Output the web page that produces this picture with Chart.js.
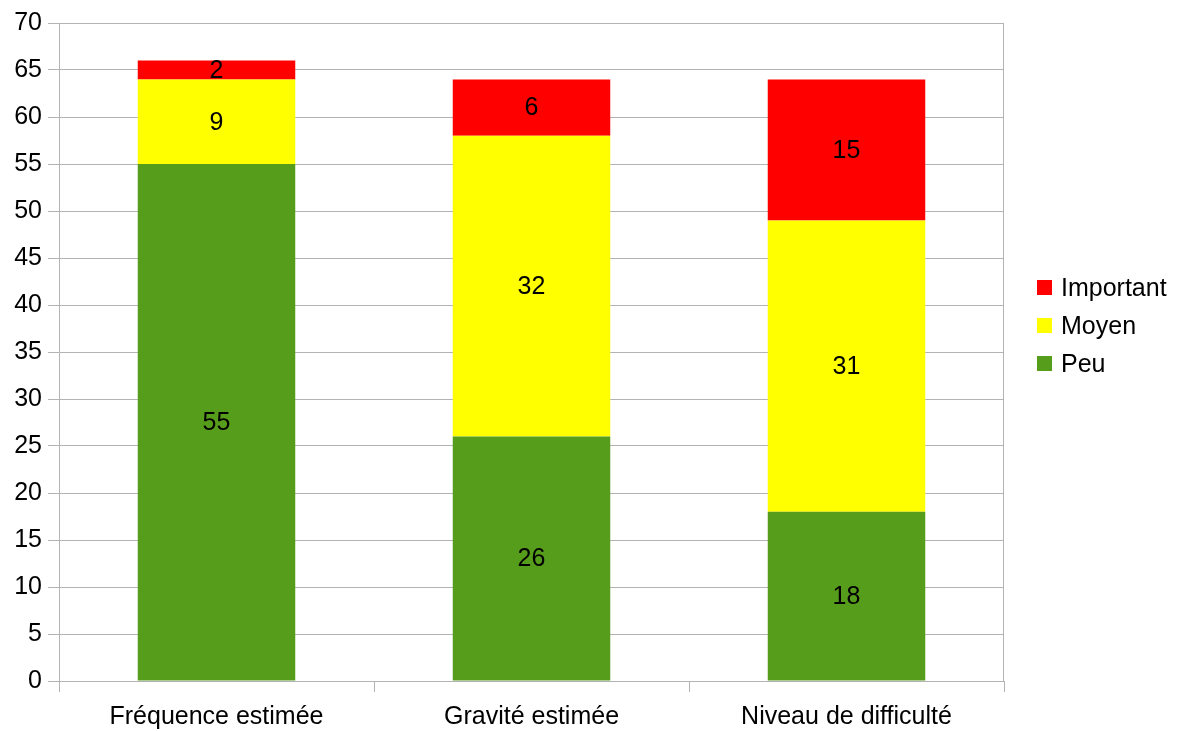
<!DOCTYPE html>
<html>
<head>
<meta charset="utf-8">
<script src="https://cdn.jsdelivr.net/npm/chart.js@4/dist/chart.umd.min.js"></script>
<style>
  html, body { margin: 0; padding: 0; background: #fff; }
  #wrap { width: 1180px; height: 731px; position: relative; }
</style>
</head>
<body>
<div id="wrap"><canvas id="chart"></canvas></div>
<script>
// categories and series
const categories = ['Fréquence estimée', 'Gravité estimée', 'Niveau de difficulté'];
const peu = [55, 26, 18];
const moyen = [9, 32, 31];
const important = [2, 6, 15];
const seriesNames = ['Peu', 'Moyen', 'Important'];
const seriesColors = ['#579d1c', '#ffff00', '#ff0000'];

const FONT = '"Liberation Sans", Arial, sans-serif';
const GRID = '#b3b3b3';

// value labels in the middle of each segment
const valueLabels = {
  id: 'valueLabels',
  afterDatasetsDraw(chart) {
    const ctx = chart.ctx;
    ctx.save();
    ctx.font = '25px ' + FONT;
    ctx.fillStyle = '#000';
    ctx.textAlign = 'center';
    ctx.textBaseline = 'middle';
    chart.data.datasets.forEach((ds, i) => {
      chart.getDatasetMeta(i).data.forEach((bar, j) => {
        const p = bar.getCenterPoint();
        ctx.fillText(ds.data[j], p.x, p.y + 1);
      });
    });
    ctx.restore();
  }
};

// right border + legend on the side
const sideLegend = {
  id: 'sideLegend',
  afterDraw(chart) {
    const ctx = chart.ctx;
    const a = chart.chartArea;
    ctx.save();
    ctx.strokeStyle = GRID;
    ctx.lineWidth = 1;
    ctx.beginPath();
    ctx.moveTo(Math.round(a.right) - 0.5, a.top);
    ctx.lineTo(Math.round(a.right) - 0.5, a.bottom);
    ctx.stroke();

    ctx.font = '25px ' + FONT;
    ctx.textBaseline = 'middle';
    ctx.textAlign = 'left';
    const x = a.right + 33;
    const yMid = 326;
    const step = 38;
    const order = [2, 1, 0];
    order.forEach((s, k) => {
      const y = yMid + (k - 1) * step;
      ctx.fillStyle = seriesColors[s];
      ctx.fillRect(x, y - 8, 15, 15);
      ctx.fillStyle = '#000';
      ctx.fillText(seriesNames[s], x + 24, y + 1);
    });
    ctx.restore();
  }
};

new Chart(document.getElementById('chart'), {
  type: 'bar',
  data: {
    labels: categories,
    datasets: [
      { label: seriesNames[0], data: peu, backgroundColor: seriesColors[0] },
      { label: seriesNames[1], data: moyen, backgroundColor: seriesColors[1] },
      { label: seriesNames[2], data: important, backgroundColor: seriesColors[2] }
    ]
  },
  options: {
    responsive: true,
    maintainAspectRatio: false,
    animation: false,
    barPercentage: 0.5,
    categoryPercentage: 1,
    layout: { padding: { top: 23, right: 176, left: 0, bottom: 0 } },
    plugins: { legend: { display: false }, tooltip: { enabled: false } },
    scales: {
      x: {
        stacked: true,
        grid: { offset: true, drawOnChartArea: false, drawTicks: true, tickLength: 11, color: GRID },
        border: { color: GRID },
        ticks: { color: '#000', font: { family: FONT, size: 25 }, padding: 10, maxRotation: 0 },
        afterFit(s) { s.height = 50; }
      },
      y: {
        stacked: true,
        min: 0,
        max: 70,
        grid: { color: GRID, tickLength: 11 },
        border: { color: GRID },
        ticks: { stepSize: 5, color: '#000', font: { family: FONT, size: 25 }, padding: 6 },
        afterFit(s) { s.width = 59; }
      }
    }
  },
  plugins: [valueLabels, sideLegend]
});
</script>
</body>
</html>
